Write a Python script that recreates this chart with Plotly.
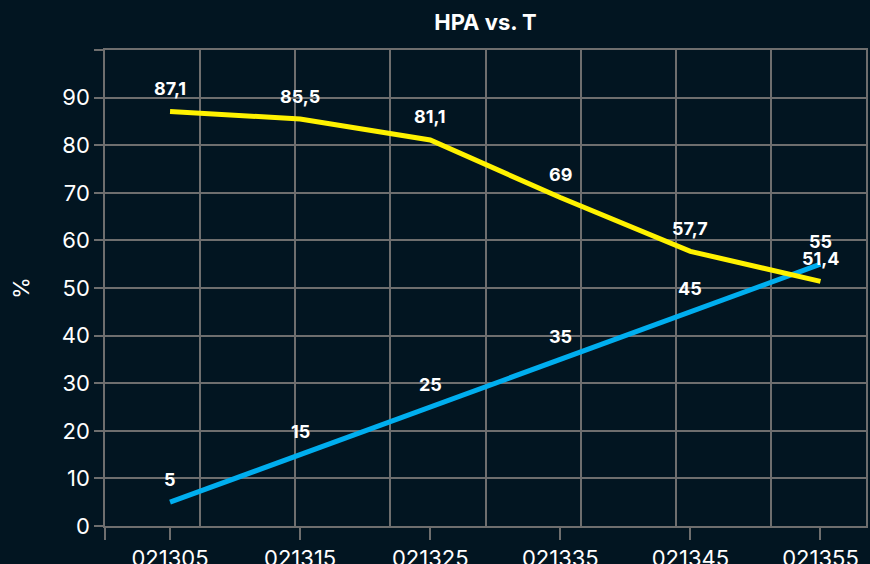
import numpy as np
import plotly.graph_objects as go

# ---- data ----
time_codes = [21305, 21315, 21325, 21335, 21345, 21355]
tick_labels = ["021305", "021315", "021325", "021335", "021345", "021355"]
hpa_yellow = [87.1, 85.5, 81.1, 69, 57.7, 51.4]
hpa_blue = [5, 15, 25, 35, 45, 55]

title_text = "HPA vs. T"
y_title = "%"

# ---- style ----
BG = "#021521"
GRID = "#6e6e6e"
YELLOW = "#FFF200"
BLUE = "#00AEEF"
FONT = "Inter, Roboto, sans-serif"

x_range = [21300, 21358.5]
x_grid = list(np.linspace(x_range[0], x_range[1], 9))


def fmt(v):
    s = ("%g" % v)
    return s.replace(".", ",")


fig = go.Figure()
fig.add_trace(go.Scatter(x=time_codes, y=hpa_blue, mode="lines",
                         line=dict(color=BLUE, width=5), hoverinfo="skip",
                         showlegend=False))
fig.add_trace(go.Scatter(x=time_codes, y=hpa_yellow, mode="lines",
                         line=dict(color=YELLOW, width=5), hoverinfo="skip",
                         showlegend=False))

annotations = []
for series in (hpa_yellow, hpa_blue):
    for xv, yv in zip(time_codes, series):
        annotations.append(dict(x=xv, y=yv, xref="x", yref="y", text=fmt(yv),
                                showarrow=False, yshift=23,
                                font=dict(family=FONT, size=18, color="white",
                                          weight="bold")))

fig.update_layout(
    width=870, height=564,
    paper_bgcolor=BG, plot_bgcolor=BG,
    margin=dict(l=105, r=4, t=50, b=38, autoexpand=False),
    title=dict(text="<b>" + title_text + "</b>", x=0.5, xref="paper",
               y=1 - 22 / 564, yanchor="middle",
               font=dict(family=FONT, size=22, color="white")),
    annotations=annotations,
    xaxis=dict(
        range=x_range, showgrid=False, zeroline=False, automargin=False,
        showline=True, mirror=True, linecolor=GRID, linewidth=1.5,
        tickmode="array", tickvals=[x_range[0]] + time_codes,
        ticktext=[""] + tick_labels,
        ticks="outside", ticklen=12, tickcolor=GRID, tickwidth=1.5,
        tickfont=dict(family=FONT, size=22, color="white"),
        minor=dict(tickvals=x_grid, showgrid=True, gridcolor=GRID,
                   gridwidth=1.5, ticks=""),
    ),
    yaxis=dict(
        range=[0, 100], showgrid=True, gridcolor=GRID, gridwidth=1.5,
        zeroline=False, showline=True, mirror=True, linecolor=GRID,
        linewidth=1.5, automargin=False,
        tickmode="array", tickvals=list(range(0, 101, 10)),
        ticktext=[str(v) for v in range(0, 100, 10)] + [""],
        ticks="outside", ticklen=9, tickcolor=GRID, tickwidth=1.5,
        tickfont=dict(family=FONT, size=22, color="white"),
        title=dict(text=y_title, standoff=26,
                   font=dict(family=FONT, size=22, color="white")),
    ),
)

fig.write_html("out.html", config={"displayModeBar": False},
               post_script="document.body.style.margin='0';"
                           "document.body.style.background='" + BG + "';")
